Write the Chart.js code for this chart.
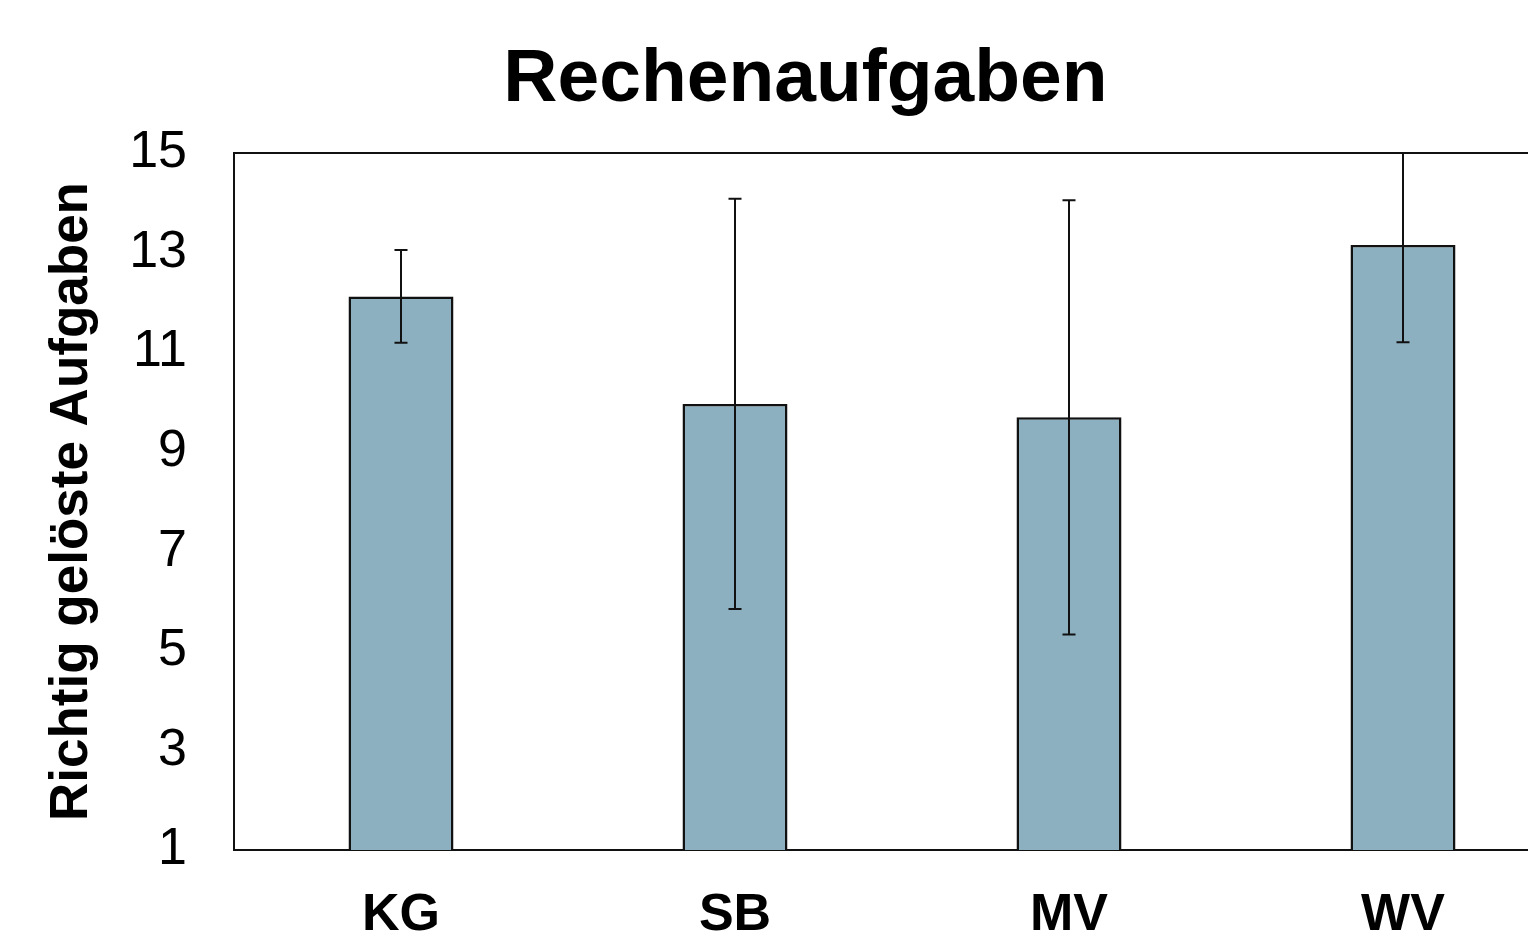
<!DOCTYPE html>
<html>
<head>
<meta charset="utf-8">
<script src="https://cdn.jsdelivr.net/npm/chart.js@4/dist/chart.umd.min.js"></script>
<style>
  html, body { margin: 0; padding: 0; background: #fff; overflow: hidden; }
  #wrap { width: 1650px; height: 946px; }
</style>
</head>
<body>
<div id="wrap"><canvas id="chart"></canvas></div>
<script>
// Values
const categories = ["KG", "SB", "MV", "WV"];
const means = [12.12, 9.96, 9.69, 13.15];
const errors = [0.93, 4.12, 4.36, 1.95];
const yTicks = [1, 3, 5, 7, 9, 11, 13, 15];

const barColor = "#8cb0c0";
const inkColor = "#111111";
const fontFamily = "'Liberation Sans', Arial, sans-serif";

// Draws the plot frame (left, top, bottom; right edge lies off-screen)
const frameBox = {
  id: "frameBox",
  beforeDatasetsDraw(chart) {
    const { ctx, chartArea: a } = chart;
    ctx.save();
    ctx.strokeStyle = inkColor;
    ctx.lineWidth = 2;
    ctx.strokeRect(a.left, a.top, a.right - a.left, a.bottom - a.top);
    ctx.restore();
  },
};

// Symmetric error bars from the errors array, mapped through the y scale
const errorBars = {
  id: "errorBars",
  afterDatasetsDraw(chart) {
    const { ctx, chartArea: a } = chart;
    const y = chart.scales.y;
    const meta = chart.getDatasetMeta(0);
    ctx.save();
    ctx.beginPath();
    ctx.rect(a.left, a.top - 1, a.right - a.left, a.bottom - a.top + 2);
    ctx.clip();
    ctx.strokeStyle = inkColor;
    ctx.lineWidth = 2;
    meta.data.forEach((bar, i) => {
      const x = bar.x;
      const top = y.getPixelForValue(means[i] + errors[i]);
      const bot = y.getPixelForValue(means[i] - errors[i]);
      const cap = 6.5;
      ctx.beginPath();
      ctx.moveTo(x, top);
      ctx.lineTo(x, bot);
      ctx.moveTo(x - cap, top);
      ctx.lineTo(x + cap, top);
      ctx.moveTo(x - cap, bot);
      ctx.lineTo(x + cap, bot);
      ctx.stroke();
    });
    ctx.restore();
  },
};

new Chart(document.getElementById("chart"), {
  type: "bar",
  data: {
    labels: categories,
    datasets: [
      {
        data: means,
        backgroundColor: barColor,
        borderColor: inkColor,
        borderWidth: 2.5,
        categoryPercentage: 1,
        barPercentage: 0.3144,
        base: 1,
      },
    ],
  },
  options: {
    responsive: true,
    maintainAspectRatio: false,
    animation: false,
    layout: { padding: { left: 41, right: 80, top: 0, bottom: 0 } },
    plugins: {
      legend: { display: false },
      tooltip: { enabled: false },
      title: {
        display: true,
        text: "Rechenaufgaben",
        color: "#000",
        font: { family: fontFamily, size: 75, weight: "bold" },
        padding: { top: 35, bottom: 28 },
      },
    },
    scales: {
      x: {
        grid: { display: false, drawTicks: false },
        border: { display: false },
        ticks: {
          color: "#000",
          padding: 34,
          font: { family: fontFamily, size: 52, weight: "bold" },
        },
        afterFit: (scale) => { scale.height = 96; },
      },
      y: {
        min: 1,
        max: 15,
        grid: { display: false, drawTicks: false },
        border: { display: false },
        afterBuildTicks: (scale) => {
          scale.ticks = yTicks.map((v) => ({ value: v }));
        },
        ticks: {
          color: "#000",
          padding: 47,
          font: { family: fontFamily, size: 52 },
        },
        title: {
          display: true,
          text: "Richtig gelöste Aufgaben",
          color: "#000",
          font: { family: fontFamily, size: 53, weight: "bold" },
          padding: { top: 0, bottom: 0 },
        },
        afterFit: (scale) => { scale.width = 234 - 41; },
      },
    },
  },
  plugins: [frameBox, errorBars],
});
</script>
</body>
</html>
